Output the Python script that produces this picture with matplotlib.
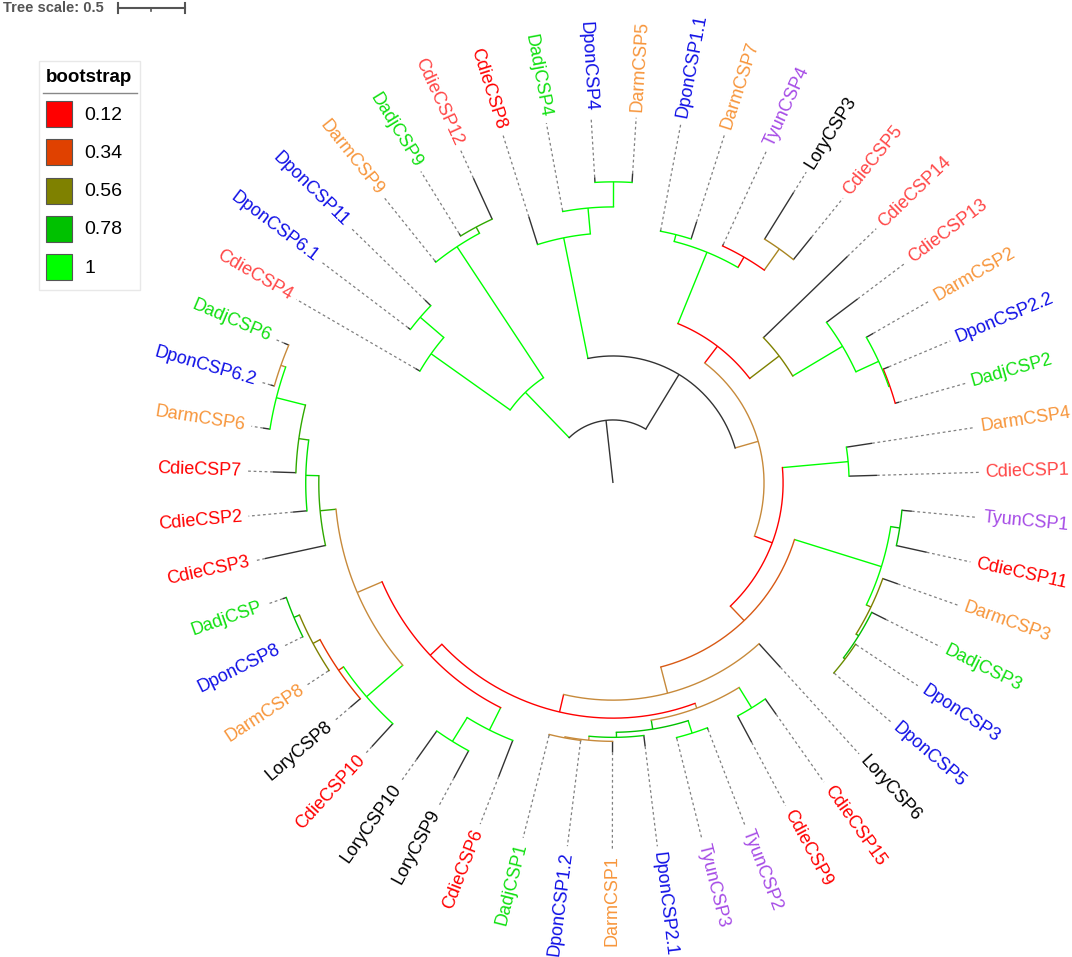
import numpy as np
import matplotlib
matplotlib.use("Agg")
import matplotlib.pyplot as plt
from matplotlib.colors import LinearSegmentedColormap
from matplotlib.patches import Rectangle

# ---------------- data ----------------
# tree (Newick): internal labels = bootstrap support, lengths in tree units
CLADE_A = ("((CdieCSP4:0.038,(DponCSP6.1:0.023,DponCSP11:0.060)1:0.233)1:0.728,"
           "(DarmCSP9:0.015,(DadjCSP9:0.023,CdieCSP12:0.338)0.7:0.053)1:1.178)1:0.473")
CLADE_B1 = "(CdieCSP8:0.218,(DadjCSP4:0.008,(DponCSP4:0.038,DarmCSP5:0.068)1:0.188)1:0.195)1:0.923"
CLADE_B2A1 = ("((DponCSP1.1:0.008,DarmCSP7:0.135)1:0.053,"
              "(TyunCSP4:0.015,(LoryCSP3:0.413,CdieCSP5:0.218)0.5:0.195)0.12:0.090)1:0.578")
CLADE_B2A2 = ("(CdieCSP14:0.878,(CdieCSP13:0.293,(DarmCSP2:0.060,"
              "(DponCSP2.2:0.045,DadjCSP2:0.030)0.12:0.008)1:0.188)1:0.435)0.56:0.278")
CLADE_B2B1 = "(DarmCSP4:0.195,CdieCSP1:0.210)1:0.495"
CLADE_B2B2A = ("((TyunCSP1:0.075,CdieCSP11:0.233)0.78:0.068,(DarmCSP3:0.120,"
               "(DadjCSP3:0.120,(DponCSP3:0.008,DponCSP5:0.004)0.6:0.015)0.78:0.023)0.56:0.038)1:0.683")
CLADE_V = ("((CdieCSP15:0.143,CdieCSP9:0.225)1:0.180,((TyunCSP2:0.015,TyunCSP3:0.008)1:0.098,"
           "(DponCSP2.1:0.083,(DarmCSP1:0.083,(DponCSP1.2:0.008,DadjCSP1:0.008)0.45:0.008)0.45:0.030)0.85:0.038)0.78:0.068)0.45:0.038")
CLADE_WL = ("((CdieCSP6:0.293,(LoryCSP9:0.233,LoryCSP10:0.263)1:0.210)1:0.188,"
            "((CdieCSP10:0.233,(LoryCSP8:0.098,(DarmCSP8:0.008,(DponCSP8:0.004,DadjCSP:0.030)0.78:0.045)0.56:0.060)0.3:0.045)1:0.360,"
            "(CdieCSP3:0.465,(CdieCSP2:0.105,(CdieCSP7:0.173,(DarmCSP6:0.053,"
            "(DponCSP6.2:0.030,DadjCSP6:0.038)0.45:0.038)1:0.225)0.7:0.075)0.9:0.098)0.7:0.120)0.45:0.203)0.12:0.120")
CLADE_W = "(" + CLADE_V + "," + CLADE_WL + ")0.12:0.135"
CLADE_B2B2B = "(LoryCSP6:0.240," + CLADE_W + ")0.45:0.203"
CLADE_B2B2 = "(" + CLADE_B2B2A + "," + CLADE_B2B2B + ")0.38:0.150"
CLADE_B2B = "(" + CLADE_B2B1 + "," + CLADE_B2B2 + ")0.12:0.143"
CLADE_B2A = "(" + CLADE_B2A1 + "," + CLADE_B2A2 + ")0.12:0.158"
CLADE_B2 = "(" + CLADE_B2A + "," + CLADE_B2B + ")0.45:0.180"
CLADE_B = "(" + CLADE_B1 + "," + CLADE_B2 + "):0.480"
NEWICK = "(" + CLADE_A + "," + CLADE_B + "):0.473;"

LEGEND_VALUES = [0.12, 0.34, 0.56, 0.78, 1.0]
LEGEND_LABELS = ["0.12", "0.34", "0.56", "0.78", "1"]
LEGEND_COLORS = ["#ff0000", "#e04000", "#808000", "#00c000", "#00ff00"]
TREE_SCALE = 0.5

GROUP_COLORS = {"Dpon": "#1010e6", "Darm": "#f7963c", "Dadj": "#10e010",
                "Tyun": "#a64ce6", "Lory": "#000000", "Cdie": "#ff0000"}
LIGHT_CDIE = ["CdieCSP12", "CdieCSP5", "CdieCSP14", "CdieCSP13", "CdieCSP1", "CdieCSP4"]
LIGHT_CDIE_COLOR = "#ff4646"

# ---------------- style / layout ----------------
W_PX, H_PX = 1072, 957
CX, CY = 613, 483
PX_PER_UNIT = 133.3
START_ANGLE = 149.9
LINE_END_R = 366
LABEL_R = 372
FONT = ["Liberation Sans", "DejaVu Sans"]
plt.rcParams["font.family"] = FONT

cmap = LinearSegmentedColormap.from_list(
    "boot",
    [((0.12 - 0.12) / 0.88, "#ff0000"), ((0.34 - 0.12) / 0.88, "#e04000"),
     ((0.45 - 0.12) / 0.88, "#c88a3c"), ((0.56 - 0.12) / 0.88, "#808000"),
     ((0.78 - 0.12) / 0.88, "#00c000"), (1.0, "#00ff00")])


def support_color(v):
    return cmap((v - 0.12) / 0.88)


# ---------------- parse ----------------
def parse(s):
    pos = 0

    def node():
        nonlocal pos
        n = {"children": [], "name": "", "support": None, "length": 0.0}
        if s[pos] == "(":
            pos += 1
            while True:
                n["children"].append(node())
                if s[pos] == ",":
                    pos += 1
                    continue
                if s[pos] == ")":
                    pos += 1
                    break
        st = pos
        while pos < len(s) and s[pos] not in ",():;":
            pos += 1
        lab = s[st:pos]
        if pos < len(s) and s[pos] == ":":
            pos += 1
            st = pos
            while pos < len(s) and s[pos] not in ",();":
                pos += 1
            n["length"] = float(s[st:pos])
        if n["children"]:
            n["support"] = float(lab) if lab else None
        else:
            n["name"] = lab
        return n

    return node()


tree = parse(NEWICK)
leaves = []


def collect(n):
    if not n["children"]:
        leaves.append(n)
    for c in n["children"]:
        collect(c)


collect(tree)
step = 360.0 / len(leaves)
for i, lf in enumerate(leaves):
    lf["theta"] = START_ANGLE - i * step


def layout(n, pr, depth):
    n["r"] = pr + n["length"] * PX_PER_UNIT
    n["pr"] = pr
    n["depth"] = depth
    for c in n["children"]:
        layout(c, n["r"], depth + 1)
    if n["children"]:
        n["theta"] = 0.5 * (n["children"][0]["theta"] + n["children"][-1]["theta"])


layout(tree, 0.0, 0)


def xy(r, th):
    t = np.radians(th)
    return CX + r * np.cos(t), CY - r * np.sin(t)


fig = plt.figure(figsize=(W_PX / 100, H_PX / 100), dpi=100)
ax = fig.add_axes([0, 0, 1, 1])
ax.set_xlim(0, W_PX)
ax.set_ylim(H_PX, 0)
ax.axis("off")

LW = 1.0


def draw(n):
    if n["children"]:
        col = support_color(n["support"]) if n["support"] is not None else "#333333"
    else:
        col = "#333333"
    z = 10 - 0.05 * n["depth"]
    x0, y0 = xy(n["pr"], n["theta"])
    x1, y1 = xy(n["r"], n["theta"])
    ax.plot([x0, x1], [y0, y1], color=col, lw=LW, solid_capstyle="butt", zorder=z)
    if n["children"]:
        a0 = n["children"][0]["theta"]
        a1 = n["children"][-1]["theta"]
        ths = np.linspace(a0, a1, max(3, int(abs(a1 - a0) * 3)))
        xs, ys = xy(n["r"], ths)
        ax.plot(xs, ys, color=col, lw=LW, zorder=z)
        for c in n["children"]:
            draw(c)
    else:
        xa, ya = xy(n["r"], n["theta"])
        xb, yb = xy(LINE_END_R, n["theta"])
        ax.plot([xa, xb], [ya, yb], color="#808080", lw=0.9,
                linestyle=(0, (2.2, 2.2)), zorder=5)
        th = (n["theta"] + 180) % 360 - 180
        xt, yt = xy(LABEL_R, n["theta"])
        name = n["name"]
        colr = LIGHT_CDIE_COLOR if name in LIGHT_CDIE else GROUP_COLORS[name[:4]]
        if -90 < th < 90:
            rot, ha = th, "left"
        else:
            rot, ha = th + 180 if th < 0 else th - 180, "right"
        ax.text(xt, yt, name, rotation=rot, rotation_mode="anchor", ha=ha, va="center",
                fontsize=13, color=colr)


draw(tree)

# ---------------- tree scale ----------------
ax.text(3, 8, "Tree scale: " + str(TREE_SCALE), fontsize=10.5, fontweight="bold",
        color="#555555", ha="left", va="center")
bx0 = 118
bx1 = bx0 + TREE_SCALE * PX_PER_UNIT
ax.plot([bx0, bx1], [8, 8], color="#555555", lw=1.5)
ax.plot([bx0, bx0], [3, 13], color="#555555", lw=1.5)
ax.plot([bx1, bx1], [3, 13], color="#555555", lw=1.5)
ax.plot([(bx0 + bx1) / 2] * 2, [8, 11], color="#555555", lw=1.2)

# ---------------- legend ----------------
ax.add_patch(Rectangle((39, 61), 101, 229, facecolor="white", edgecolor="#e8e8e8", lw=1, zorder=20))
ax.text(89, 77, "bootstrap", fontsize=13.5, fontweight="bold", ha="center", va="center", zorder=21)
ax.plot([43, 137], [92.5, 92.5], color="#888888", lw=1.0, zorder=21)
for i, (v, lab) in enumerate(zip(LEGEND_VALUES, LEGEND_LABELS)):
    yc = 114 + i * 38.3
    ax.add_patch(Rectangle((46, yc - 13), 26, 26, facecolor=support_color(v),
                           edgecolor="#555555", lw=0.8, zorder=21))
    ax.text(84, yc + 1, lab, fontsize=14, ha="left", va="center", zorder=21)

fig.savefig("out.png", dpi=100)
